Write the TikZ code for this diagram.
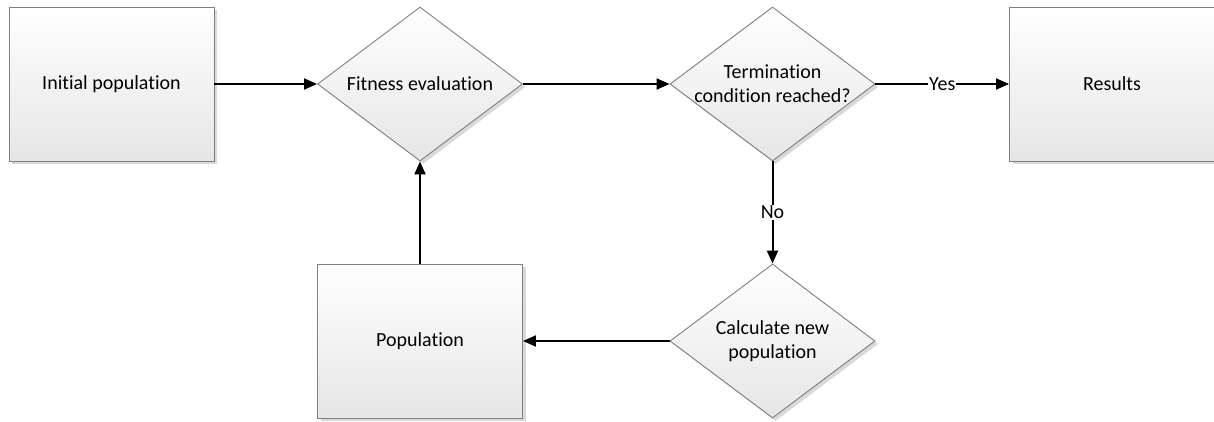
\documentclass[tikz,border=0pt]{standalone}
\usepackage{fontspec}
\setmainfont{Carlito}[Ligatures=NoCommon]
\usetikzlibrary{shapes.geometric,shadows,arrows.meta}
\definecolor{edgegray}{HTML}{7F7F7F}
\definecolor{shadegray}{HTML}{E6E6E6}
\definecolor{shadowgray}{HTML}{D9D9D9}
\tikzset{
  shapebase/.style={draw=edgegray, line width=0.9pt, top color=white, bottom color=shadegray,
    drop shadow={shadow xshift=3pt, shadow yshift=-3pt, fill=shadowgray, opacity=1}},
  procbox/.style={shapebase, rectangle, minimum width=205pt, minimum height=154pt, inner sep=0pt,
    font=\fontsize{20}{24}\selectfont, align=center},
  decision/.style={shapebase, diamond, minimum width=205pt, minimum height=154pt, inner sep=0pt},
  dectext/.style={font=\fontsize{20}{24}\selectfont, align=center, inner sep=0pt},
  flow/.style={line width=2pt, -{Triangle[length=13pt,width=11pt]}},
  lbl/.style={fill=white, inner sep=1pt, font=\fontsize{20}{24}\selectfont}
}
\begin{document}
\begin{tikzpicture}[x=1pt,y=1pt]
\useasboundingbox (0,0) rectangle (1214,-421);
\node[procbox] (init) at (111.5,-84) {Initial population};
\node[decision] (fit) at (420,-84) {};
\node[dectext] (fitt) at (fit.center) {Fitness evaluation};
\node[decision] (term) at (772.5,-84) {};
\node[dectext] (termt) at (term.center) {Termination\\condition reached?};
\node[procbox] (res) at (1112,-84) {Results};
\node[procbox] (pop) at (420,-341) {Population};
\node[decision] (calc) at (772.5,-341) {};
\node[dectext] (calct) at (calc.center) {Calculate new\\population};
\draw[flow] (init.east) -- (fit.west);
\draw[flow] (fit.east) -- (term.west);
\draw[flow] (term.east) -- node[lbl] {Yes} (res.west);
\draw[flow] (term.south) -- node[lbl] {No} (calc.north);
\draw[flow] (calc.west) -- (pop.east);
\draw[flow] (pop.north) -- (fit.south);
\end{tikzpicture}
\end{document}
